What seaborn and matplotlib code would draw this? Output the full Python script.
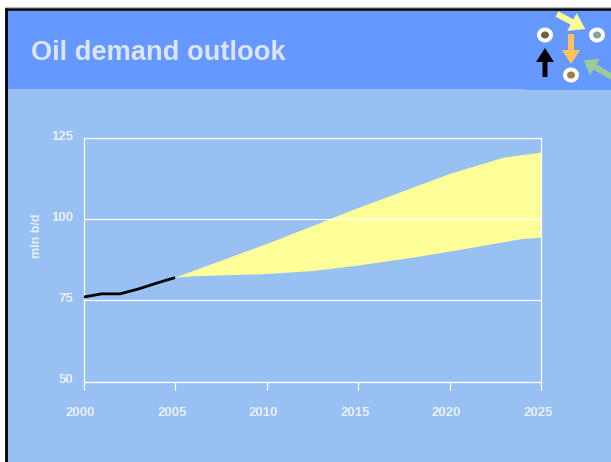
import matplotlib
matplotlib.use('Agg')
import matplotlib.pyplot as plt
import matplotlib.transforms as mtrans
from matplotlib.patches import Rectangle, Ellipse, FancyArrow
import seaborn as sns
import pandas as pd

hist_years = [2000, 2001, 2002, 2003, 2004, 2005]
hist_demand = [76.0, 77.0, 77.0, 78.5, 80.3, 82.0]

band_years = [2005, 2006, 2009.3, 2009.4, 2012.5, 2015, 2018.3, 2020, 2024, 2025]
band_low = [82.0, 82.4, 83.0, 82.9, 84.0, 85.7, 88.4, 90.0, 93.9, 94.3]
upper_years = [2005, 2010, 2012.5, 2015, 2017.5, 2020, 2023, 2025]
upper_vals = [82.0, 92.3, 97.8, 103.4, 108.6, 113.9, 119.0, 120.5]

x_ticks = [2000, 2005, 2010, 2015, 2020, 2025]
y_ticks = [50, 75, 100, 125]

W, H = 611, 462
BODY = '#98C0F2'
HEAD = '#6699FF'
YELLOW = '#FFFF99'

sns.set_theme(style='white')
plt.rcParams['font.family'] = ['Liberation Sans', 'DejaVu Sans']

fig = plt.figure(figsize=(W / 100, H / 100), dpi=100, facecolor='white')

# slide background, in pixel coordinates
bg = fig.add_axes([0, 0, 1, 1], zorder=0)
bg.set_xlim(0, W)
bg.set_ylim(H, 0)
bg.axis('off')
bg.add_patch(Rectangle((7, 9), W, H, fc=BODY, ec='none'))
bg.add_patch(Rectangle((7, 9), W, 80, fc=HEAD, ec='none'))
bg.add_patch(Rectangle((525, 9), W, 81, fc=HEAD, ec='none'))
bg.plot([6, 6], [8, H], color='black', lw=2, solid_capstyle='butt')
bg.plot([5, W], [8.7, 8.7], color='black', lw=1.8, solid_capstyle='butt')
bg.plot([5, W], [7.3, 7.3], color='#BBBBBB', lw=0.8)
bg.text(31, 52.5, 'Oil demand outlook', color='#DDE4F2', fontsize=19.6,
        fontweight='bold', va='center', ha='left')

# little eyes and arrows top right
for cx, cy, c in [(545, 35, '#6A6045'), (597, 35, '#7FA598'), (571, 75, '#A87A40')]:
    bg.add_patch(Ellipse((cx, cy), 16, 15, fc='white', ec='none'))
    bg.add_patch(Ellipse((cx, cy), 8, 7, fc=c, ec='none'))
bg.add_patch(FancyArrow(557, 14, 15, 8, width=6, head_width=20, head_length=15,
                        fc='#FFFF99', ec='none'))
bg.add_patch(FancyArrow(571, 34, 0, 16, width=6, head_width=18, head_length=14,
                        fc='#FFC35A', ec='none'))
bg.add_patch(FancyArrow(545, 77, 0, -15, width=5, head_width=18, head_length=14,
                        fc='black', ec='none'))
bg.add_patch(FancyArrow(612, 77, -17, -10, width=6, head_width=19, head_length=13,
                        fc='#99CC99', ec='none'))

ax = fig.add_axes([83.5 / W, 1 - 381.5 / H, 457.5 / W, 243.5 / H], zorder=1)
ax.patch.set_alpha(0)
ax.set_xlim(2000, 2025)
ax.set_ylim(50, 125)

ax.fill(upper_years + band_years[::-1], upper_vals + band_low[::-1],
        color=YELLOW, lw=0, zorder=1, clip_on=False)

hist = pd.DataFrame({'year': hist_years, 'demand': hist_demand})
sns.lineplot(data=hist, x='year', y='demand', color='black', lw=2, ax=ax,
             zorder=3, errorbar=None, solid_capstyle='butt')

ax.set_xticks(x_ticks)
ax.set_yticks(y_ticks)
ax.set_xlabel('')
ax.set_ylabel('mln b/d', color='#EAF1FB', fontsize=9, fontweight='bold')
ax.yaxis.set_label_coords(-40 / 457.5, 0.597)
ax.grid(axis='y', color='white', lw=0.9, zorder=2)
ax.set_axisbelow(False)
for s in ax.spines.values():
    s.set_color('white')
    s.set_linewidth(0.9)
ax.tick_params(axis='x', bottom=True, length=6, width=0.9, color='white', pad=12,
               labelsize=9.5, labelcolor='#EAF1FB')
ax.tick_params(axis='y', left=False, length=0, pad=7.5, labelsize=9.5, labelcolor='#EAF1FB')
for lab in ax.get_xticklabels():
    lab.set_fontweight('bold')
    lab.set_transform(lab.get_transform() + mtrans.Affine2D().translate(-3, 0))
for lab in ax.get_yticklabels():
    lab.set_fontweight('bold')
    lab.set_transform(lab.get_transform() + mtrans.Affine2D().translate(0, 3))

fig.savefig('out.png', dpi=100)
